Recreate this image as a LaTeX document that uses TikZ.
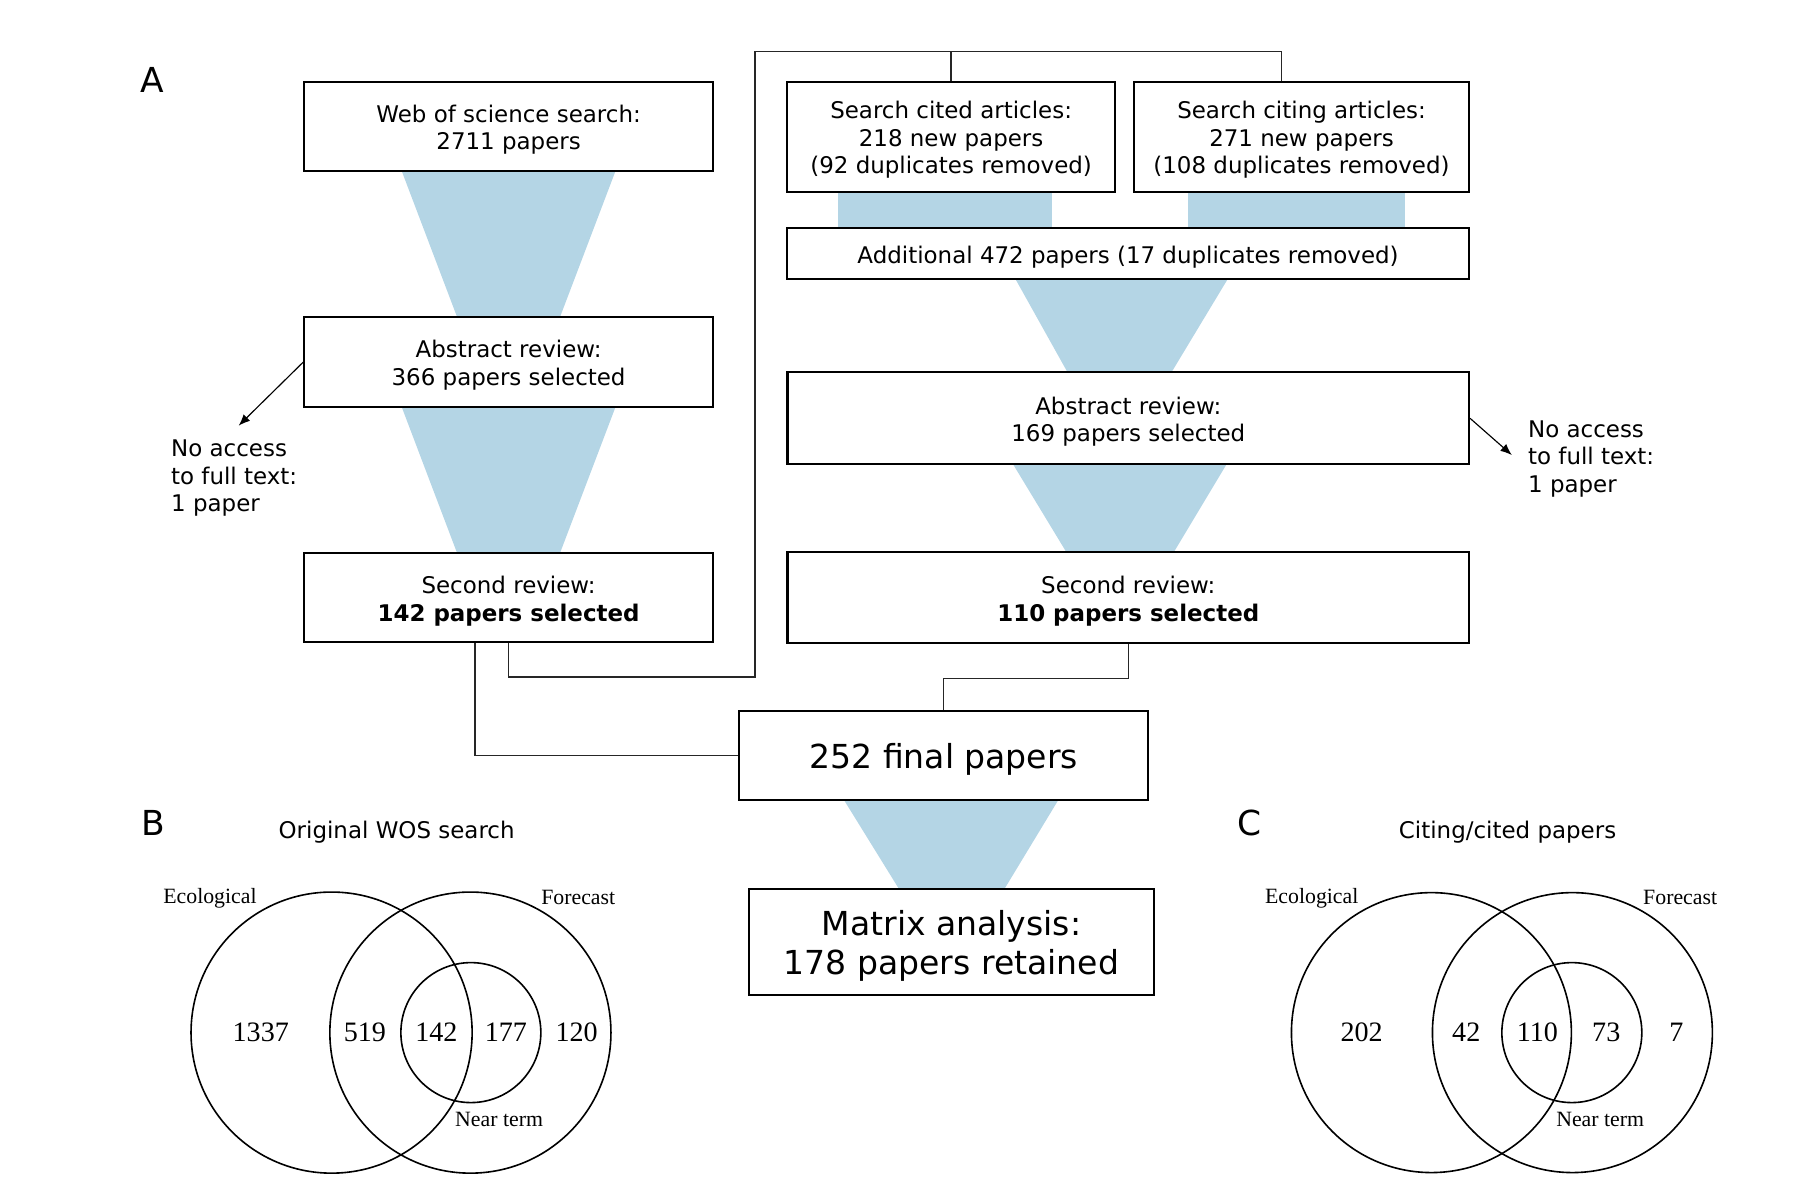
\documentclass[tikz,border=0pt]{standalone}
\usepackage{fontspec}
\setmainfont{DejaVu Sans}
\newfontfamily\tms{Liberation Serif}
\usetikzlibrary{arrows.meta,calc}
\definecolor{funnel}{RGB}{180,213,229}
\newcommand{\tstr}{\rule{0pt}{10.6pt}}
\newcommand{\bstr}{\rule{0pt}{13.9pt}}
\begin{document}
\begin{tikzpicture}[x=0.5pt,y=-0.5pt,
  box/.style={draw=black, line width=0.9pt, fill=white, inner sep=0pt, align=center, font=\fontsize{10}{12}\selectfont},
  bigbox/.style={box, font=\fontsize{14.4}{17}\selectfont},
  conn/.style={line width=0.6pt, black!85},
  arr/.style={line width=0.5pt, -{Latex[length=5pt,width=4pt]}},
  fun/.style={fill=funnel, draw=none},
  panel/.style={font=\fontsize{15}{18}\selectfont},
  ttl/.style={font=\fontsize{10}{12}\selectfont},
  venn/.style={line width=0.7pt},
  vnum/.style={font=\tms\fontsize{12.25}{14}\selectfont},
  vlab/.style={font=\tms\fontsize{9.5}{11}\selectfont},
  note/.style={align=left, font=\fontsize{10}{12}\selectfont, inner sep=0pt, anchor=west}
]
\useasboundingbox (0,0) rectangle (1568,1045);

% funnels
\fill[fun] (350,148.7) -- (536.6,148.7) -- (488,276.6) -- (398.5,276.6) -- cycle;
\fill[fun] (350,354.4) -- (536.6,354.4) -- (488,482.3) -- (398.5,482.3) -- cycle;
\fill[fun] (730,167) rectangle (917.3,198.4);
\fill[fun] (1035.8,167) rectangle (1224.2,198.4);
\fill[fun] (885.2,243.5) -- (1069.9,243.5) -- (1021,324.6) -- (930.5,324.6) -- cycle;
\fill[fun] (883,404.7) -- (1069,404.7) -- (1023,481.4) -- (929.5,481.4) -- cycle;
\fill[fun] (735.6,697.3) -- (922.4,697.3) -- (875.4,774.9) -- (783.6,774.9) -- cycle;

% boxes
\node[box, minimum width=178pt, minimum height=38.75pt] (wos) at (443.3,110) {\tstr Web of science search:\\2711 papers};
\node[box, minimum width=178pt, minimum height=38.9pt] (abs1) at (443.3,315.5) {\tstr Abstract review:\\366 papers selected};
\node[box, minimum width=178pt, minimum height=38.8pt] (sec1) at (443.3,521.1) {\tstr Second review:\\\textbf{142 papers selected}};
\node[box, minimum width=142.85pt, minimum height=47.9pt] (cited) at (829,119.1) {\tstr Search cited articles:\\218 new papers\\(92 duplicates removed)};
\node[box, minimum width=145.75pt, minimum height=47.9pt] (citing) at (1134.4,119.1) {\tstr Search citing articles:\\271 new papers\\(108 duplicates removed)};
\node[box, minimum width=297pt, minimum height=22.5pt] (add) at (983.2,221) {\tstr Additional 472 papers (17 duplicates removed)};
\node[box, minimum width=297pt, minimum height=40pt] (abs2) at (983.4,364.6) {\tstr Abstract review:\\169 papers selected};
\node[box, minimum width=297pt, minimum height=39.65pt] (sec2) at (983.4,521) {\tstr Second review:\\\textbf{110 papers selected}};
\node[bigbox, minimum width=178.25pt, minimum height=38.8pt] (final) at (822.6,658.5) {\bstr 252 final papers};
\node[bigbox, minimum width=176.7pt, minimum height=46.3pt] (matrix) at (829.3,821.2) {\bstr Matrix analysis:\\178 papers retained};

% no access notes
\node[note] (na1) at (148.8,417) {No access\\to full text:\\1 paper};
\node[note] (na2) at (1331.5,400) {No access\\to full text:\\1 paper};
\coordinate (t1) at (208,371);
\coordinate (t2) at (1317.7,396.6);
\draw[arr] (abs1.west) -- (t1);
\draw[arr] (abs2.east) -- (t2);

% connectors
\coordinate (tl) at (658,45);
\draw[conn] (sec1.south -| 414,0) |- (final.west);
\draw[conn] (sec1.south) |- (tl |- 0,590) -- (tl) -| (citing.north -| 1117,0);
\draw[conn] (cited.north) -- (cited.north |- tl);
\draw[conn] (sec2.south) -- ++(0,30) -| (final.north);

% panel labels
\node[panel] (lA) at (133,70) {A};
\node[panel] (lB) at (133.6,717.6) {B};
\node[panel] (lC) at (1088.7,717) {C};
\node[ttl] (tB) at (345.7,725) {Original WOS search};
\node[ttl] (tC) at (1314,725) {Citing/cited papers};

% Venn B
\draw[venn] (289,900) circle[radius=122.5];
\draw[venn] (410,900) circle[radius=122.5];
\draw[venn] (410.4,900) circle[radius=61];
\node[vlab] (bE) at (183,783) {Ecological};
\node[vlab] (bF) at (504,782) {Forecast};
\node[vlab] (bN) at (435,976) {Near term};
\node[vnum] (b1) at (227.3,900) {1337};
\node[vnum] (b2) at (318,900) {519};
\node[vnum] (b3) at (380.3,900) {142};
\node[vnum] (b4) at (440.9,900) {177};
\node[vnum] (b5) at (502.6,900) {120};

% Venn C
\draw[venn] (1247.6,900) circle[radius=122];
\draw[venn] (1370.5,900) circle[radius=122];
\draw[venn] (1370,900) circle[radius=61];
\node[vlab] (cE) at (1143.3,783) {Ecological};
\node[vlab] (cF) at (1464.4,782) {Forecast};
\node[vlab] (cN) at (1394.7,976) {Near term};
\node[vnum] (c1) at (1186.8,900) {202};
\node[vnum] (c2) at (1278,900) {42};
\node[vnum] (c3) at (1340,900) {110};
\node[vnum] (c4) at (1400,900) {73};
\node[vnum] (c5) at (1461.2,900) {7};
\end{tikzpicture}
\end{document}
